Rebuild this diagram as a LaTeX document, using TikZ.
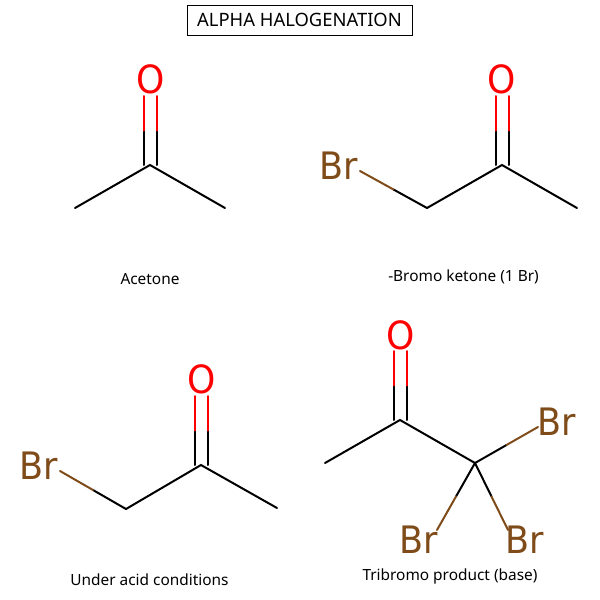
\documentclass[tikz,border=0pt]{standalone}
\usepackage{fontspec}
\setmainfont{Noto Sans}
\newfontfamily\atomfont{DejaVu Sans}
\usetikzlibrary{calc}
\definecolor{brcol}{RGB}{127,76,25}
\newcommand{\tallatom}[1]{\scalebox{1}[1.08]{#1}}
\tikzset{
  x=1pt,y=-1pt,
  bond/.style={line width=2pt,line cap=round,black},
  oxy/.style={font=\atomfont\fontsize{36}{36}\selectfont,text=red,inner sep=0pt},
  brom/.style={font=\atomfont\fontsize{35}{35}\selectfont,text=brcol,inner sep=0pt},
  caption/.style={font=\fontsize{15.4}{17}\selectfont,text=black,inner sep=0pt},
  titlebox/.style={draw=black,line width=1pt,fill=white,font=\fontsize{18.4}{20}\selectfont,minimum width=225,minimum height=30,inner sep=0pt},
}
\newcommand{\halfbond}[4][0]{%
  \draw[bond] ([xshift=#1]#2) -- ([xshift=#1]$(#2)!0.5!(#3)$);
  \draw[bond,#4] ([xshift=#1]$(#2)!0.5!(#3)$) -- ([xshift=#1]#3);}
\begin{document}
\begin{tikzpicture}
\useasboundingbox (0,0) rectangle (600,600);
\fill[white] (0,0) rectangle (600,600);
\node[titlebox] (title) at (299.5,20) {ALPHA HALOGENATION};
% Acetone
\coordinate (a1) at (75,208); \coordinate (a2) at (150,165); \coordinate (a3) at (225,208);
\coordinate (ae) at (150,96);
\node[oxy] (ao) at (150.5,79) {\tallatom{O}};
\draw[bond] (a1) -- (a2) -- (a3);
\halfbond[-6.5]{a2}{ae}{red}
\halfbond[6.5]{a2}{ae}{red}
\node[caption] (acap) at (150,279.5) {Acetone};
% Bromo ketone
\coordinate (b1) at (427,208); \coordinate (b2) at (502,165); \coordinate (b3) at (577,208);
\coordinate (be) at (502,96); \coordinate (bb) at (360,171);
\node[oxy] (bo) at (501.5,79) {\tallatom{O}};
\node[brom] (bbr) at (338.5,166) {\tallatom{Br}};
\draw[bond] (b1) -- (b2) -- (b3);
\halfbond{b1}{bb}{brcol}
\halfbond[-6.5]{b2}{be}{red}
\halfbond[6.5]{b2}{be}{red}
\node[caption] (bcap) at (463.5,276.5) {-Bromo ketone (1 Br)};
% Under acid
\coordinate (c1) at (126,509); \coordinate (c2) at (201,465); \coordinate (c3) at (277,508);
\coordinate (ce) at (201,396); \coordinate (cb) at (60,471);
\node[oxy] (co) at (201.5,379) {\tallatom{O}};
\node[brom] (cbr) at (38.5,466) {\tallatom{Br}};
\draw[bond] (c1) -- (c2) -- (c3);
\halfbond{c1}{cb}{brcol}
\halfbond[-6.5]{c2}{ce}{red}
\halfbond[6.5]{c2}{ce}{red}
\node[caption] (ccap) at (149.5,579.5) {Under acid conditions};
% Tribromo
\coordinate (d1) at (325,463); \coordinate (d2) at (400,420); \coordinate (d3) at (475,463);
\coordinate (de) at (400,351); \coordinate (dr) at (538,427); \coordinate (dl) at (437,530); \coordinate (dm) at (508,530);
\node[oxy] (do) at (400.5,335) {\tallatom{O}};
\node[brom] (dbr1) at (557,422) {\tallatom{Br}};
\node[brom] (dbr2) at (419,540) {\tallatom{Br}};
\node[brom] (dbr3) at (524.5,540) {\tallatom{Br}};
\draw[bond] (d1) -- (d2) -- (d3);
\halfbond[-6.5]{d2}{de}{red}
\halfbond[6.5]{d2}{de}{red}
\halfbond{d3}{dr}{brcol}
\halfbond{d3}{dl}{brcol}
\halfbond{d3}{dm}{brcol}
\node[caption] (dcap) at (450,576.5) {Tribromo product (base)};
\end{tikzpicture}
\end{document}
